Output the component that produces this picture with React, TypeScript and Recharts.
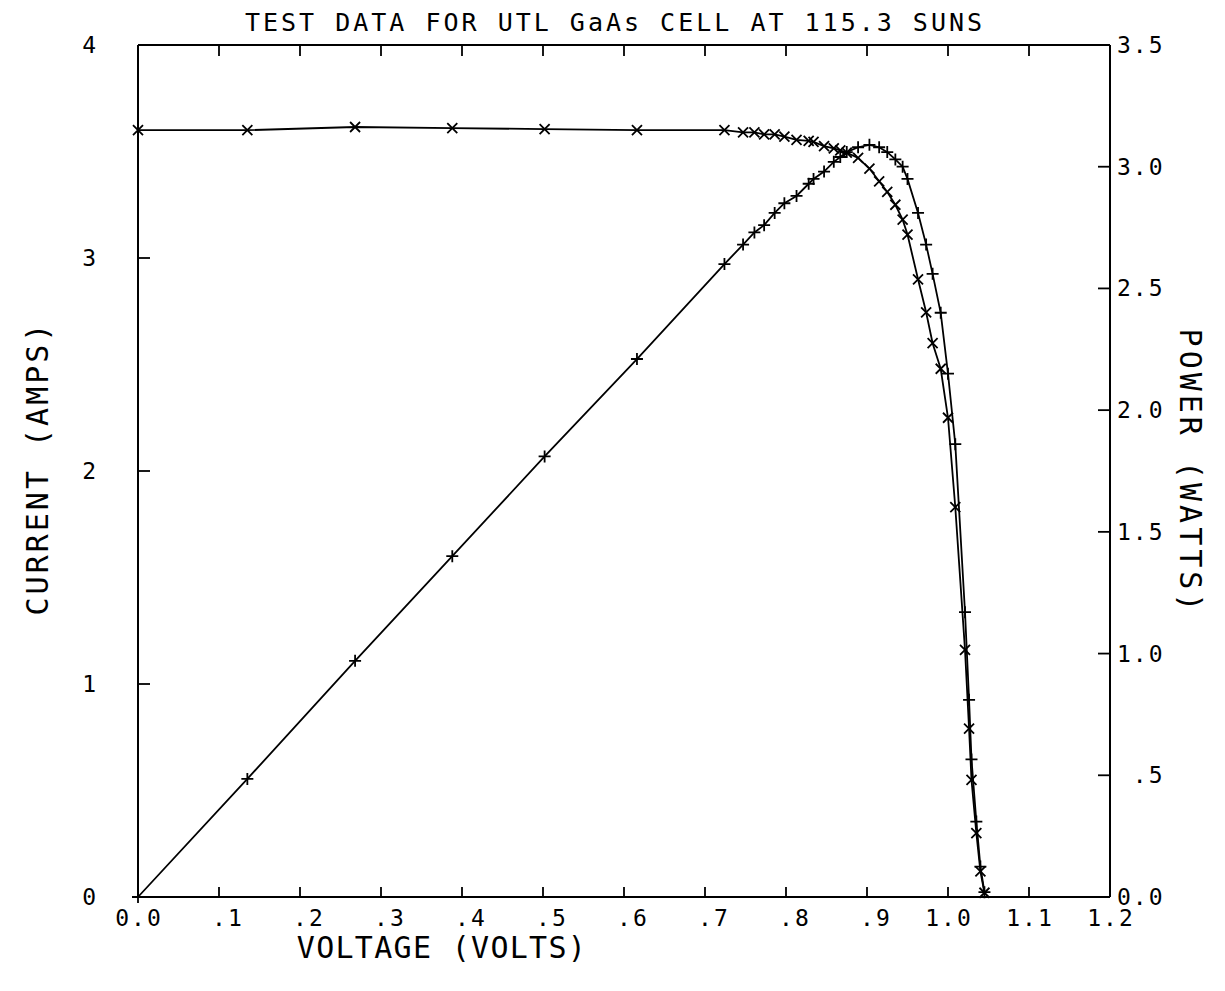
import { LineChart, Line, XAxis, YAxis } from "recharts";

const VOLTAGE = [
  0.0, 0.135, 0.268, 0.388, 0.502, 0.616, 0.724, 0.747, 0.761, 0.773, 0.786,
  0.798, 0.813, 0.828, 0.834, 0.847, 0.859, 0.867, 0.875, 0.889, 0.903, 0.915,
  0.925, 0.935, 0.944, 0.95, 0.963, 0.973, 0.981, 0.991, 1.0, 1.009, 1.021,
  1.026, 1.029, 1.035, 1.04, 1.045,
];
const CURRENT = [
  3.6, 3.6, 3.615, 3.61, 3.605, 3.6, 3.6, 3.59, 3.59, 3.58, 3.58, 3.57, 3.555,
  3.55, 3.545, 3.525, 3.515, 3.505, 3.495, 3.47, 3.42, 3.36, 3.31, 3.25, 3.18,
  3.11, 2.9, 2.745, 2.6, 2.48, 2.25, 1.83, 1.16, 0.79, 0.55, 0.3, 0.12, 0.02,
];
const POWER = [
  0.0, 0.485, 0.97, 1.4, 1.81, 2.21, 2.6, 2.68, 2.73, 2.76, 2.81, 2.85, 2.88,
  2.93, 2.95, 2.98, 3.02, 3.04, 3.06, 3.08, 3.09, 3.08, 3.06, 3.03, 3.0, 2.95,
  2.81, 2.68, 2.56, 2.4, 2.15, 1.86, 1.17, 0.81, 0.565, 0.31, 0.125, 0.02,
];

const X_TICKS = [0, 0.1, 0.2, 0.3, 0.4, 0.5, 0.6, 0.7, 0.8, 0.9, 1.0, 1.1, 1.2];
const X_TICK_LABELS = ["0.0", ".1", ".2", ".3", ".4", ".5", ".6", ".7", ".8", ".9", "1.0", "1.1", "1.2"];
const CURRENT_TICKS = [0, 1, 2, 3, 4];
const CURRENT_TICK_LABELS = ["0", "1", "2", "3", "4"];
const POWER_TICKS = [0, 0.5, 1.0, 1.5, 2.0, 2.5, 3.0, 3.5];
const POWER_TICK_LABELS = ["0.0", ".5", "1.0", "1.5", "2.0", "2.5", "3.0", "3.5"];

const data = VOLTAGE.map((v, i) => ({ v, current: CURRENT[i], power: POWER[i] }));

const W = 1225;
const H = 991;
const LEFT_W = 138;
const RIGHT_W = 115;
const TOP_H = 45;
const BOTTOM_H = 94;
const X_MAX = 1.2;

const FONT = "'DejaVu Sans Mono', monospace";
const TICK_FS = 23;
const LS = 2;
const ADV = TICK_FS * 0.602;
const CW = ADV + LS;
const INK = "#000";

// x markers on the current curve
function CrossDot(props: any) {
  const { cx, cy, index } = props;
  if (cx == null || cy == null) return <g key={`c-${index}`} />;
  const s = 5;
  return (
    <path
      key={`c-${index}`}
      d={`M${cx - s},${cy - s}L${cx + s},${cy + s}M${cx - s},${cy + s}L${cx + s},${cy - s}`}
      stroke={INK}
      strokeWidth={1.8}
      fill="none"
    />
  );
}

// + markers on the power curve
function PlusDot(props: any) {
  const { cx, cy, index } = props;
  if (cx == null || cy == null) return <g key={`p-${index}`} />;
  const s = 6;
  return (
    <path
      key={`p-${index}`}
      d={`M${cx - s},${cy}L${cx + s},${cy}M${cx},${cy - s}L${cx},${cy + s}`}
      stroke={INK}
      strokeWidth={1.8}
      fill="none"
    />
  );
}

// decimal point of the label sits on the tick
function BottomTick(props: any) {
  const { x, y, index } = props;
  const label = X_TICK_LABELS[index] ?? "";
  const dot = label.indexOf(".");
  const start = x - dot * CW - ADV / 2;
  return (
    <text x={start} y={y + 19} fontFamily={FONT} fontSize={TICK_FS} letterSpacing={LS} fill={INK} textAnchor="start">
      {label}
    </text>
  );
}

function RightTick(props: any) {
  const { x, y, index } = props;
  const label = POWER_TICK_LABELS[index] ?? "";
  const dot = label.indexOf(".");
  const start = x + (1 - dot) * CW;
  return (
    <text x={start} y={y + 8} fontFamily={FONT} fontSize={TICK_FS} letterSpacing={LS} fill={INK} textAnchor="start">
      {label}
    </text>
  );
}

function LeftTick(props: any) {
  const { x, y, index } = props;
  return (
    <text x={x} y={y + 8} fontFamily={FONT} fontSize={TICK_FS} fill={INK} textAnchor="end">
      {CURRENT_TICK_LABELS[index]}
    </text>
  );
}

// inward tick marks along the top edge of the frame
function TopTicks() {
  const plotW = W - LEFT_W - RIGHT_W;
  return (
    <svg width={W} height={H} style={{ position: "absolute", left: 0, top: 0, pointerEvents: "none" }}>
      {X_TICKS.slice(1, -1).map((t) => {
        const x = LEFT_W + (t / X_MAX) * plotW;
        return <line key={t} x1={x} x2={x} y1={TOP_H} y2={TOP_H + 11} stroke={INK} strokeWidth={1.8} />;
      })}
    </svg>
  );
}

const labelStyle = {
  position: "absolute" as const,
  fontFamily: FONT,
  color: INK,
  whiteSpace: "nowrap" as const,
  lineHeight: 1,
};

export default function App() {
  return (
    <div style={{ position: "absolute", left: 0, top: 0, width: W, height: H, background: "#fff" }}>
      <LineChart width={W} height={H} data={data} margin={{ top: 0, right: 0, bottom: 0, left: 0 }}>
        <XAxis
          xAxisId="b"
          dataKey="v"
          type="number"
          domain={[0, X_MAX]}
          ticks={X_TICKS}
          interval={0}
          height={BOTTOM_H}
          tickSize={-10}
          tickMargin={20}
          axisLine={{ stroke: INK, strokeWidth: 2 }}
          tickLine={{ stroke: INK, strokeWidth: 1.8 }}
          tick={<BottomTick />}
        />
        <XAxis
          xAxisId="t"
          orientation="top"
          dataKey="v"
          type="number"
          domain={[0, X_MAX]}
          ticks={X_TICKS}
          height={TOP_H}
          axisLine={{ stroke: INK, strokeWidth: 2 }}
          tickLine={false}
          tick={false}
        />
        <YAxis
          yAxisId="left"
          type="number"
          domain={[0, 4]}
          ticks={CURRENT_TICKS}
          interval={0}
          width={LEFT_W}
          tickSize={-12}
          tickMargin={54}
          axisLine={{ stroke: INK, strokeWidth: 2 }}
          tickLine={{ stroke: INK, strokeWidth: 1.8 }}
          tick={<LeftTick />}
        />
        <YAxis
          yAxisId="right"
          orientation="right"
          type="number"
          domain={[0, 3.5]}
          ticks={POWER_TICKS}
          interval={0}
          width={RIGHT_W}
          tickSize={-12}
          tickMargin={19}
          axisLine={{ stroke: INK, strokeWidth: 2 }}
          tickLine={{ stroke: INK, strokeWidth: 1.8 }}
          tick={<RightTick />}
        />
        <Line
          xAxisId="b"
          yAxisId="left"
          type="linear"
          dataKey="current"
          stroke={INK}
          strokeWidth={1.8}
          dot={CrossDot}
          activeDot={false}
          isAnimationActive={false}
        />
        <Line
          xAxisId="b"
          yAxisId="right"
          type="linear"
          dataKey="power"
          stroke={INK}
          strokeWidth={1.8}
          dot={PlusDot}
          activeDot={false}
          isAnimationActive={false}
        />
      </LineChart>

      <TopTicks />

      <div style={{ ...labelStyle, left: 615, top: 22, fontSize: 25, letterSpacing: 3, transform: "translate(-50%, -50%)" }}>
        TEST DATA FOR UTL GaAs CELL AT 115.3 SUNS
      </div>
      <div style={{ ...labelStyle, left: 442, top: 948, fontSize: 30, letterSpacing: 1.3, transform: "translate(-50%, -50%)" }}>
        VOLTAGE (VOLTS)
      </div>
      <div style={{ ...labelStyle, left: 38, top: 468, fontSize: 30, letterSpacing: 3, transform: "translate(-50%, -50%) rotate(-90deg)" }}>
        CURRENT (AMPS)
      </div>
      <div style={{ ...labelStyle, left: 1190, top: 472, fontSize: 30, letterSpacing: 4, transform: "translate(-50%, -50%) rotate(90deg)" }}>
        POWER (WATTS)
      </div>
    </div>
  );
}
